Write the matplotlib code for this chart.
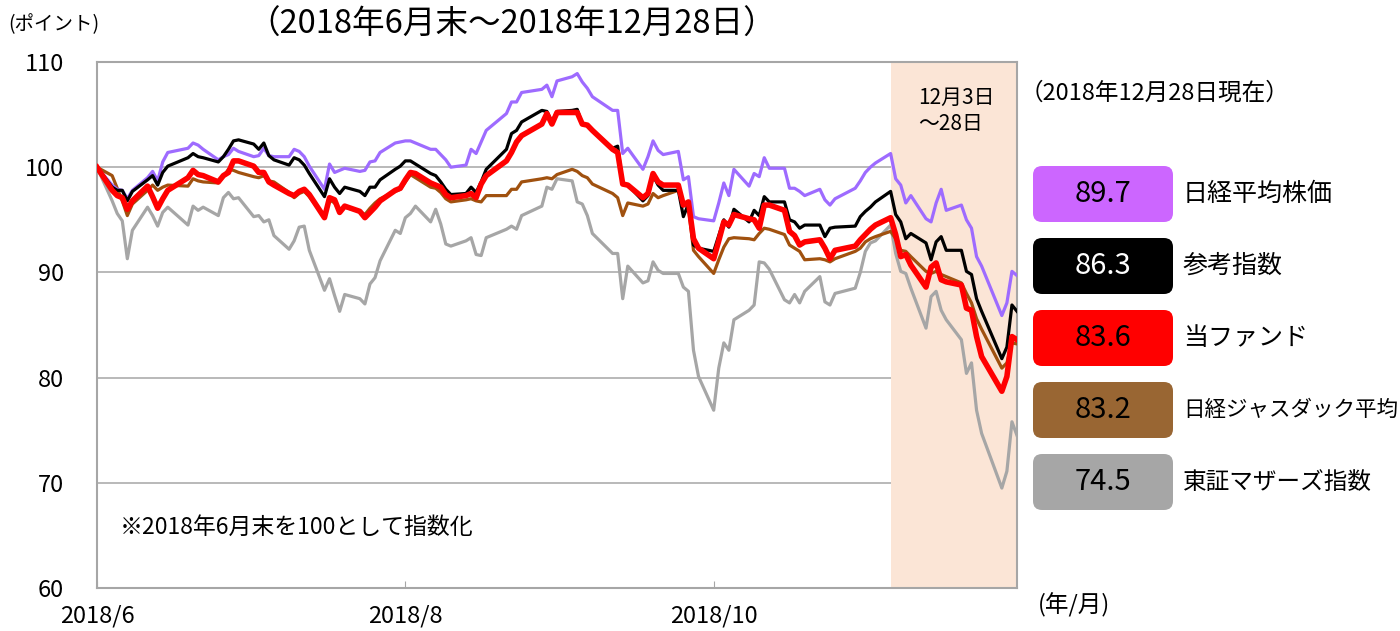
import datetime as dt

import matplotlib
matplotlib.use('Agg')
import matplotlib.pyplot as plt
from matplotlib.patches import FancyBboxPatch
from matplotlib.transforms import IdentityTransform
import pandas as pd

plt.rcParams['font.family'] = ['Noto Sans CJK JP', 'DejaVu Sans']

# 東京市場の営業日（2018/6/29～2018/12/28）
holidays = ['2018-07-16', '2018-09-17', '2018-09-24', '2018-10-08', '2018-11-23', '2018-12-24']
dates = pd.bdate_range('2018-06-29', '2018-12-28', freq='C', holidays=holidays).to_pydatetime()

# 2018年6月末=100 として指数化した値（月ごとに区切って記載）
nikkei = [100.0, 98.3, 97.9, 97.8, 97.0, 97.8, 99.0, 99.6, 98.7, 100.5, 101.4, 101.8, 102.3, 102.1, 101.7, 100.7, 101.0, 101.2, 101.8, 101.5, 101.0, 101.1,
          101.8, 101.1, 101.0, 101.0, 101.7, 101.5, 101.0, 100.1, 97.9, 100.3, 99.5, 99.7, 99.9, 99.6, 99.7, 100.5, 100.6, 101.4, 102.3, 102.4, 102.5, 102.5, 102.3,
          101.7, 101.7, 101.2, 100.7, 100.0, 100.2, 101.7, 101.3, 102.4, 103.5, 105.1, 106.2, 106.2, 107.1, 107.4, 107.8, 106.7, 108.2,
          108.6, 108.9, 108.1, 107.5, 106.7, 105.4, 105.4, 101.3, 101.8, 99.8, 101.0, 102.5, 101.6, 101.2, 101.5, 98.8, 99.1, 95.3, 95.1, 94.9, 96.6, 98.5,
          97.3, 99.8, 98.2, 99.4, 99.1, 100.9, 99.9, 99.9, 98.0, 98.0, 97.7, 97.3, 97.9, 96.9, 96.4, 97.0, 98.0, 98.7, 99.5, 100.0, 100.4,
          101.3, 98.9, 98.3, 96.6, 97.3, 95.1, 94.8, 96.6, 97.9, 95.9, 96.4, 95.0, 94.2, 91.5, 90.6, 85.9, 87.1, 90.1, 89.7]
benchmark = [100.0, 98.1, 97.8, 97.8, 96.8, 97.7, 98.8, 99.2, 98.3, 99.5, 100.1, 100.9, 101.3, 101.0, 100.9, 100.5, 101.0, 101.7, 102.5, 102.6, 102.2, 101.7,
             102.3, 101.1, 100.7, 100.2, 100.9, 100.7, 100.2, 99.4, 97.2, 98.9, 98.1, 97.5, 98.1, 97.7, 97.3, 98.1, 98.1, 98.8, 99.8, 100.1, 100.6, 100.6, 100.3,
             99.4, 99.2, 98.6, 97.9, 97.4, 97.5, 98.1, 97.6, 98.6, 99.8, 101.7, 103.2, 103.5, 104.3, 105.4, 105.3, 104.3, 105.3,
             105.4, 105.5, 104.1, 104.0, 103.5, 101.8, 102.0, 98.4, 98.3, 96.8, 97.3, 99.2, 98.3, 97.8, 97.8, 95.3, 96.5, 92.6, 92.3, 92.0, 93.5, 95.0,
             94.3, 96.0, 94.8, 95.9, 95.4, 97.2, 96.7, 96.7, 95.0, 94.8, 94.2, 94.5, 94.5, 93.4, 94.2, 94.3, 94.4, 95.3, 95.8, 96.2, 96.7,
             97.7, 95.5, 94.8, 93.2, 93.7, 92.8, 91.2, 92.9, 93.4, 92.1, 92.1, 90.1, 89.8, 87.5, 86.3, 81.8, 82.9, 86.9, 86.3]
fund = [100.0, 97.8, 97.3, 97.1, 96.0, 96.8, 98.2, 97.2, 96.1, 97.0, 97.8, 99.0, 99.7, 99.3, 99.2, 98.6, 99.2, 99.5, 100.6, 100.6, 100.1, 99.5,
        99.5, 98.6, 98.3, 97.5, 97.3, 97.7, 97.9, 97.4, 95.2, 97.1, 96.9, 95.7, 96.3, 95.8, 95.2, 95.7, 96.2, 96.8, 97.8, 98.0, 98.8, 99.5, 99.4,
        98.5, 98.3, 98.1, 97.4, 97.1, 97.3, 97.5, 97.1, 98.4, 99.2, 100.6, 101.4, 102.4, 103.0, 104.1, 105.1, 104.1, 105.2,
        105.2, 105.2, 104.1, 104.0, 103.5, 101.7, 101.4, 98.4, 98.3, 97.1, 97.5, 99.4, 98.6, 98.3, 98.3, 96.4, 96.7, 93.2, 92.3, 91.3, 93.0, 94.8,
        94.5, 95.5, 95.1, 95.0, 94.2, 96.4, 96.4, 95.9, 93.9, 93.5, 92.6, 92.9, 93.1, 92.3, 91.3, 92.1, 92.5, 93.1, 93.6, 94.1, 94.5,
        95.2, 93.6, 91.5, 91.7, 90.7, 88.6, 90.5, 90.9, 89.3, 89.1, 88.8, 86.6, 86.4, 83.9, 82.0, 78.7, 80.1, 83.9, 83.6]
jasdaq = [100.0, 99.2, 98.0, 96.8, 95.4, 96.5, 97.8, 98.3, 97.8, 98.1, 98.3, 98.2, 98.9, 98.7, 98.6, 98.5, 99.1, 99.8, 99.7, 99.5, 99.1, 99.0,
          99.2, 98.7, 98.6, 97.6, 97.1, 97.5, 97.7, 97.2, 95.3, 96.9, 96.6, 95.8, 96.2, 95.8, 95.5, 96.1, 96.6, 97.0, 97.7, 97.9, 98.6, 99.3, 99.0,
          98.1, 98.0, 97.6, 97.0, 96.7, 96.9, 97.0, 96.8, 96.7, 97.3, 97.3, 97.9, 97.9, 98.6, 98.9, 99.0, 98.9, 99.3,
          99.8, 99.6, 99.2, 99.0, 98.4, 97.5, 97.1, 95.4, 96.6, 96.3, 96.5, 97.5, 97.1, 97.3, 97.8, 96.6, 96.2, 92.1, 91.5, 89.9, 91.2, 92.4,
          93.2, 93.3, 93.2, 93.1, 93.7, 94.2, 94.1, 93.6, 92.6, 92.3, 92.0, 91.2, 91.3, 91.2, 91.0, 91.3, 92.0, 92.3, 92.9, 93.2, 93.4,
          93.9, 93.2, 92.1, 92.0, 91.5, 90.1, 89.9, 90.1, 89.8, 89.6, 89.0, 88.0, 87.1, 85.6, 84.6, 80.9, 81.4, 83.3, 83.2]
mothers = [100.0, 96.8, 95.6, 94.9, 91.3, 94.0, 96.2, 95.4, 94.4, 95.7, 96.2, 94.5, 96.3, 95.9, 96.2, 95.4, 97.1, 97.6, 97.0, 97.1, 95.3, 95.4,
           94.8, 95.0, 93.5, 92.2, 93.0, 94.3, 94.4, 92.1, 88.3, 89.4, 87.8, 86.3, 87.9, 87.5, 87.0, 88.9, 89.5, 91.1, 94.0, 93.7, 95.2, 95.6, 96.3,
           94.8, 96.0, 94.6, 92.7, 92.5, 93.0, 93.3, 91.7, 91.6, 93.3, 94.1, 94.4, 94.1, 95.4, 96.3, 98.1, 97.9, 98.9,
           98.7, 96.7, 96.5, 95.4, 93.7, 91.8, 91.8, 87.5, 90.6, 89.0, 89.2, 91.0, 90.2, 89.9, 89.9, 88.6, 88.2, 82.6, 80.1, 76.9, 80.9, 83.3,
           82.6, 85.5, 86.4, 86.9, 91.0, 90.9, 90.3, 87.4, 87.1, 87.9, 87.1, 88.2, 89.6, 87.2, 86.9, 88.0, 88.5, 90.0, 92.0, 92.8, 93.0,
           94.5, 91.8, 90.1, 89.9, 88.5, 84.7, 87.7, 88.2, 86.4, 85.5, 83.6, 80.4, 81.4, 76.9, 74.7, 69.5, 71.1, 75.8, 74.5]

names = ['日経平均株価', '参考指数', '当ファンド', '日経ジャスダック平均', '東証マザーズ指数']
series = [nikkei, benchmark, fund, jasdaq, mothers]
line_colors = ['#9E6BFF', '#000000', '#FF0000', '#A0510F', '#A6A6A6']
box_colors = ['#CC66FF', '#000000', '#FF0000', '#996633', '#A6A6A6']
box_text_colors = ['black', 'white', 'black', 'black', 'black']
name_sizes = [18, 18, 18, 15.5, 17]
line_widths = [2.3, 2.3, 4.0, 2.3, 2.3]
zorders = [4, 5, 6, 3, 2]

W, H = 1400, 631
def fx(x):
    return x / W
def fy(y):
    return 1 - y / H

fig = plt.figure(figsize=(W / 100, H / 100), dpi=100)
ax = fig.add_axes([97 / W, 43 / H, 920 / W, 526 / H])

# 12月3日～28日の網掛け
ax.axvspan(dt.datetime(2018, 12, 3), dt.datetime(2018, 12, 28), color='#FBE5D6', lw=0, zorder=1)

for vals, c, lw, z in zip(series, line_colors, line_widths, zorders):
    assert len(vals) == len(dates)
    ax.plot(dates, vals, color=c, lw=lw, zorder=z, solid_joinstyle='round')

ax.set_xlim(dt.datetime(2018, 6, 29), dt.datetime(2018, 12, 28))
ax.set_ylim(60, 110)
ax.set_yticks(range(60, 111, 10))
ax.set_xticks([dt.datetime(2018, 6, 29), dt.datetime(2018, 8, 29), dt.datetime(2018, 10, 29)])
ax.set_xticklabels(['2018/6', '2018/8', '2018/10'])
ax.yaxis.grid(True, color='#A6A6A6', lw=1.1)
ax.set_axisbelow(True)
ax.tick_params(axis='x', direction='in', length=5, color='#A6A6A6', pad=12, labelsize=17)
ax.tick_params(axis='y', length=0, pad=24, labelsize=17)
for s in ax.spines.values():
    s.set_color('#A6A6A6')
    s.set_linewidth(1.5)

# 文字
fig.text(fx(54), fy(25), '(ポイント)', ha='center', va='center', fontsize=14)
fig.text(fx(512), fy(25), '（2018年6月末～2018年12月28日）', ha='center', va='center', fontsize=23.5)
fig.text(fx(918), fy(98), '12月3日', ha='left', va='center', fontsize=15)
fig.text(fx(918), fy(124), '～28日', ha='left', va='center', fontsize=15)
fig.text(fx(120), fy(527), '※2018年6月末を100として指数化', ha='left', va='center', fontsize=16.5)
fig.text(fx(1038), fy(605), '(年/月)', ha='left', va='center', fontsize=17)
fig.text(fx(1020), fy(93), '（2018年12月28日現在）', ha='left', va='center', fontsize=17)

# 右側の凡例ボックス（最終値）
for i, (name, vals) in enumerate(zip(names, series)):
    top = 166 + i * 72
    box = FancyBboxPatch((1033, H - top - 56), 140, 56,
                         boxstyle='round,pad=0,rounding_size=9',
                         transform=IdentityTransform(),
                         fc=box_colors[i], ec='none')
    fig.add_artist(box)
    fig.text(fx(1103), fy(top + 28), f'{vals[-1]:.1f}', ha='center', va='center',
             fontsize=21, color=box_text_colors[i])
    fig.text(fx(1183), fy(top + 28), name, ha='left', va='center', fontsize=name_sizes[i])

fig.savefig('out.png', dpi=100)
